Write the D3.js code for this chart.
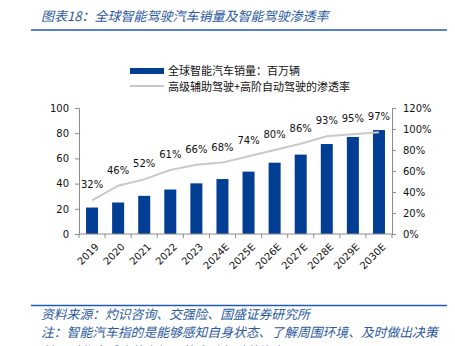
<!DOCTYPE html>
<html><head><meta charset="utf-8">
<script src="https://cdn.jsdelivr.net/npm/d3@7"></script>
<style>
body{margin:0;background:#fff;}
svg{display:block;}
</style></head>
<body><svg id="c" width="455" height="346"></svg>
<script>
const categories = ["2019","2020","2021","2022","2023","2024E","2025E","2026E","2027E","2028E","2029E","2030E"];
const sales = [21, 25, 30.3, 35.3, 40.2, 43.6, 49.5, 56.6, 63, 71.4, 77, 82.5];
const penetration = [32, 46, 52, 61, 66, 68, 74, 80, 86, 93, 95, 97];
const leftTicks = [0, 20, 40, 60, 80, 100];
const rightTicks = [0, 0.2, 0.4, 0.6, 0.8, 1.0, 1.2];
const title = "图表18：全球智能驾驶汽车销量及智能驾驶渗透率";
const legendLabels = ["全球智能汽车销量：百万辆", "高级辅助驾驶+高阶自动驾驶的渗透率"];
const sourceText = "资料来源：灼识咨询、交强险、国盛证券研究所";
const noteText = "注：智能汽车指的是能够感知自身状态、了解周围环境、及时做出决策";
const noteText2 = "并及时作出反应的车辆，能自动驾驶的汽车";

const svg = d3.select("#c");
const barColor = "#023E94";
const lineColor = "#C9C9C9";
const axisColor = "#8C8C8C";
const titleColor = "#2B5AA0";
const numFont = "DejaVu Sans, Verdana, sans-serif";
const cjkFont = "Noto Sans CJK SC, sans-serif";

// Title
svg.append("text").attr("x", 41).attr("y", 16).attr("dy", "0.35em")
  .attr("font-family", cjkFont).attr("font-size", 13).attr("font-style", "italic")
  .attr("fill", titleColor).text(title);
svg.append("line").attr("x1", 31).attr("x2", 447).attr("y1", 30).attr("y2", 30)
  .attr("stroke", "#1F5BB5").attr("stroke-width", 1.5);

// Scales
const x = d3.scaleBand().domain(categories).range([79, 392]).paddingInner(0.54).paddingOuter(0.27);
const yL = d3.scaleLinear().domain([0, 100]).range([234, 108]);
const yR = d3.scaleLinear().domain([0, 1.2]).range([234, 108]);

// Bars
svg.append("g").selectAll("rect").data(categories).join("rect")
  .attr("x", d => x(d)).attr("width", x.bandwidth())
  .attr("y", (d, i) => yL(sales[i])).attr("height", (d, i) => yL(0) - yL(sales[i]))
  .attr("fill", barColor);

// Line
const line = d3.line().x((d, i) => x(categories[i]) + x.bandwidth() / 2).y(d => yR(d / 100));
svg.append("path").datum(penetration).attr("d", line)
  .attr("fill", "none").attr("stroke", lineColor).attr("stroke-width", 2);

// Labels on line
svg.append("g").selectAll("text").data(penetration).join("text")
  .attr("x", (d, i) => x(categories[i]) + x.bandwidth() / 2)
  .attr("y", d => yR(d / 100) - 12)
  .attr("text-anchor", "middle").attr("font-family", numFont).attr("font-size", 10)
  .attr("fill", "#111").text(d => d + "%");

// Left axis
const gL = svg.append("g").attr("transform", "translate(79,0)")
  .call(d3.axisLeft(yL).tickValues(leftTicks).tickSize(4).tickPadding(6));
// Right axis
const gR = svg.append("g").attr("transform", "translate(392,0)")
  .call(d3.axisRight(yR).tickValues(rightTicks).tickSize(4).tickPadding(7).tickFormat(d3.format(".0%")));
[gL, gR].forEach(g => {
  g.select(".domain").attr("stroke", axisColor);
  g.selectAll(".tick line").attr("stroke", axisColor);
  g.selectAll("text").attr("font-family", numFont).attr("font-size", 10).attr("fill", "#111");
});

// Bottom axis
const gB = svg.append("g").attr("transform", "translate(0,234)");
gB.append("line").attr("x1", 79).attr("x2", 392).attr("stroke", axisColor);
const bounds = categories.map(c => x(c) - (x.step() - x.bandwidth()) / 2).concat([392]);
gB.selectAll("line.t").data(bounds).join("line").attr("class", "t")
  .attr("x1", d => d).attr("x2", d => d).attr("y1", 0).attr("y2", 4).attr("stroke", axisColor);
gB.selectAll("text").data(categories).join("text")
  .attr("transform", d => `translate(${x(d) + x.bandwidth() / 2 + 5},${11}) rotate(-45)`)
  .attr("text-anchor", "end").attr("dy", "0.35em")
  .attr("font-family", numFont).attr("font-size", 10).attr("fill", "#111").text(d => d);

// Legend
svg.append("rect").attr("x", 130).attr("y", 68).attr("width", 34).attr("height", 6).attr("fill", barColor);
svg.append("line").attr("x1", 130).attr("x2", 164).attr("y1", 86).attr("y2", 86)
  .attr("stroke", lineColor).attr("stroke-width", 2);
svg.append("g").selectAll("text").data(legendLabels).join("text")
  .attr("x", 168).attr("y", (d, i) => 71 + i * 16).attr("dy", "0.35em")
  .attr("font-family", cjkFont).attr("font-size", 11).attr("fill", "#111").text(d => d);

// Footer
svg.append("line").attr("x1", 31).attr("x2", 447).attr("y1", 305.5).attr("y2", 305.5)
  .attr("stroke", "#1F5BB5").attr("stroke-width", 1.5);
svg.append("g").selectAll("text").data([sourceText, noteText, noteText2]).join("text")
  .attr("x", 41).attr("y", (d, i) => 314.5 + i * 18.5).attr("dy", "0.35em")
  .attr("font-family", cjkFont).attr("font-size", 12.8).attr("font-style", "italic")
  .attr("fill", titleColor).text(d => d);
</script></body></html>
